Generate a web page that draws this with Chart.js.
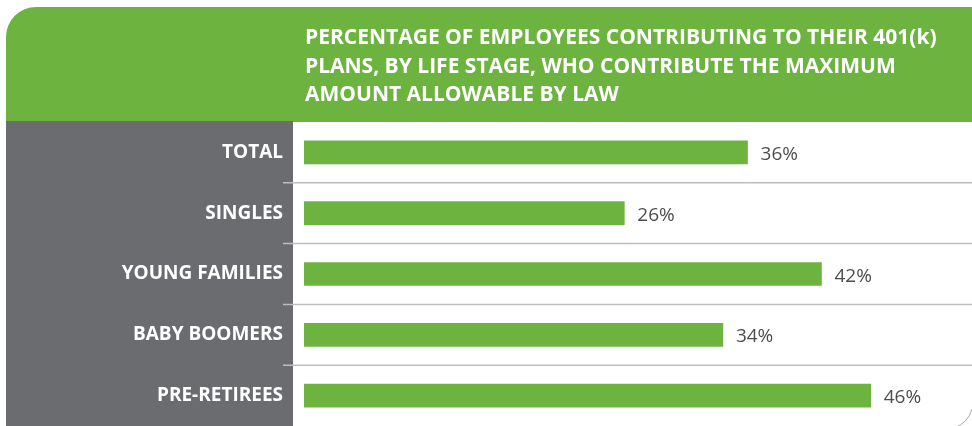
<!DOCTYPE html>
<html>
<head>
<meta charset="utf-8">
<script src="https://cdn.jsdelivr.net/npm/chart.js@4"></script>
<style>
  body { margin: 0; background: #fff; }
  canvas { display: block; }
</style>
</head>
<body>
<canvas id="chart" width="972" height="426"></canvas>
<script>
const categories = ["TOTAL", "SINGLES", "YOUNG FAMILIES", "BABY BOOMERS", "PRE-RETIREES"];
const values = [36, 26, 42, 34, 46];
const titleLines = [
    "PERCENTAGE OF EMPLOYEES CONTRIBUTING TO THEIR 401(k)",
    "PLANS, BY LIFE STAGE, WHO CONTRIBUTE THE MAXIMUM",
    "AMOUNT ALLOWABLE BY LAW",
];

const green = "#6db33f";
const panelGray = "#6b6c70";

// Green header band and the dark label column behind the axis
const backdrop = {
    id: "backdrop",
    beforeDraw(chart) {
        const ctx = chart.ctx;
        const w = chart.width;
        const top = chart.chartArea.top;
        ctx.save();
        ctx.fillStyle = green;
        ctx.beginPath();
        ctx.roundRect(6, 7, w - 6, top - 7, [30, 0, 0, 0]);
        ctx.fill();

        ctx.fillStyle = panelGray;
        ctx.fillRect(6, top - 1, 287, chart.height - top + 1);

        ctx.fillStyle = "#fff";
        ctx.font = "bold 21px 'Open Sans'";
        ctx.textBaseline = "alphabetic";
        titleLines.forEach((line, i) => {
            ctx.fillText(line, 305, 44 + i * 28.5);
        });
        ctx.restore();
    },
};

// Row separators and the value labels after each bar
const rowsAndLabels = {
    id: "rowsAndLabels",
    afterDatasetsDraw(chart) {
        const ctx = chart.ctx;
        const y = chart.scales.y;
        ctx.save();
        ctx.strokeStyle = "#bdbdbd";
        ctx.lineWidth = 1.5;
        for (let i = 0; i < categories.length - 1; i++) {
            const yy = (y.getPixelForValue(i) + y.getPixelForValue(i + 1)) / 2;
            ctx.beginPath();
            ctx.moveTo(283, yy);
            ctx.lineTo(chart.width, yy);
            ctx.stroke();
        }

        // corner of the outer frame at the bottom right
        ctx.strokeStyle = "#a8a8a8";
        ctx.lineWidth = 1;
        ctx.beginPath();
        ctx.moveTo(972, 409);
        ctx.quadraticCurveTo(968, 423, 954, 428);
        ctx.stroke();

        ctx.fillStyle = "#4d4d4d";
        ctx.font = "19px 'Open Sans'";
        ctx.textBaseline = "alphabetic";
        chart.getDatasetMeta(0).data.forEach((bar, i) => {
            ctx.fillText(values[i] + "%", bar.x + 13, bar.y + 7.5);
        });
        ctx.restore();
    },
};

new Chart(document.getElementById("chart"), {
    type: "bar",
    data: {
        labels: categories,
        datasets: [
            {
                data: values,
                backgroundColor: green,
                barThickness: 23,
                borderWidth: 0,
            },
        ],
    },
    options: {
        indexAxis: "y",
        responsive: false,
        animation: false,
        devicePixelRatio: 1,
        layout: {
            padding: { top: 122, right: 52, bottom: 0, left: 0 },
        },
        plugins: {
            legend: { display: false },
            tooltip: { enabled: false },
        },
        scales: {
            x: {
                display: false,
                min: 0,
                max: 50,
            },
            y: {
                grid: { display: false, drawTicks: false },
                border: { display: false },
                ticks: {
                    color: "#fff",
                    padding: 21,
                    font: { family: "'Open Sans'", size: 19, weight: "bold" },
                },
                afterFit(scale) {
                    // fixed label column; rows fill the full height below the header
                    scale.width = 304;
                    scale.paddingTop = 0;
                    scale.paddingBottom = 0;
                },
            },
        },
    },
    plugins: [backdrop, rowsAndLabels],
});
</script>
</body>
</html>
